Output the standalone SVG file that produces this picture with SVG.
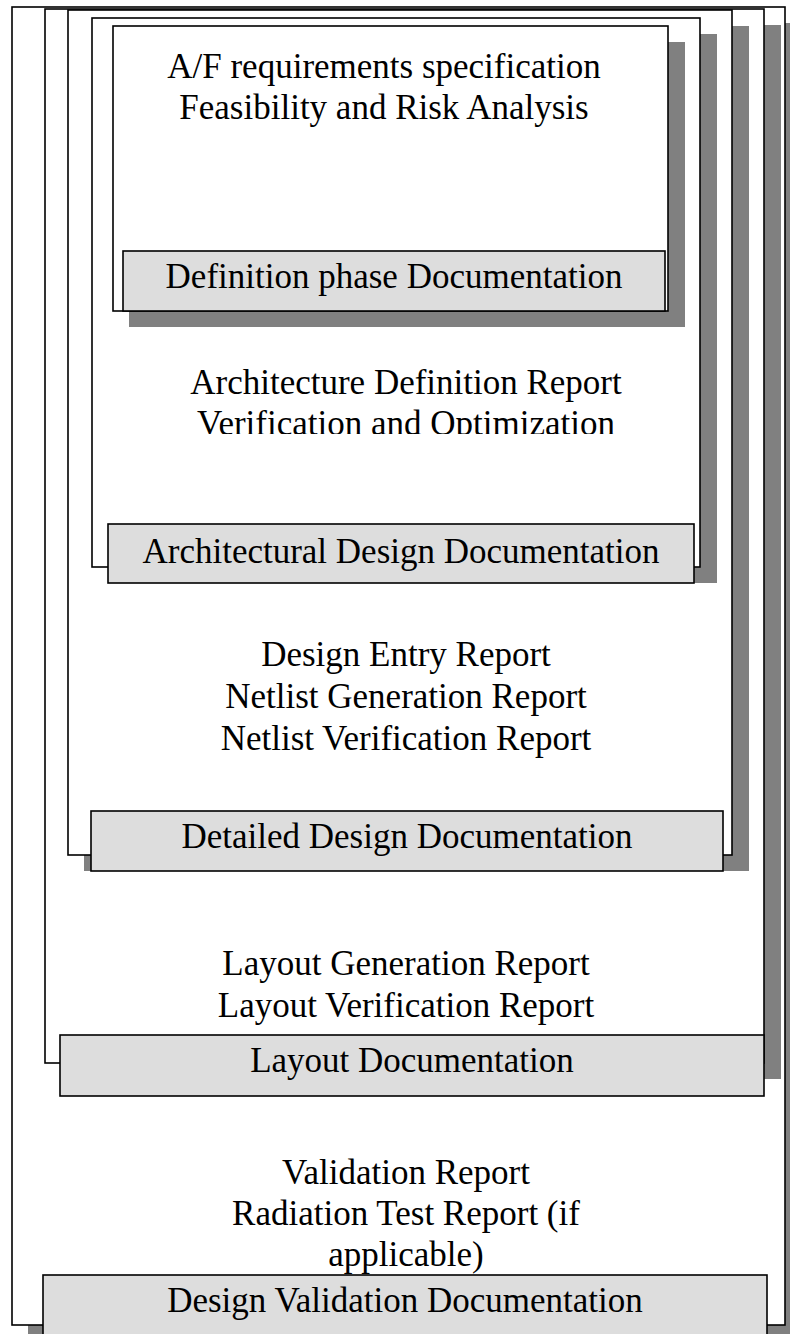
<svg xmlns="http://www.w3.org/2000/svg" width="790" height="1334" viewBox="0 0 790 1334">
<style>
.sh{fill:#808080;stroke:none}
.fr{fill:#ffffff;stroke:#000;stroke-width:1.6}
.lb{fill:#dddddd;stroke:#000;stroke-width:1.6}
text{font-family:"Liberation Serif","Times New Roman",serif;font-size:35px;fill:#000;text-anchor:middle}
</style>
<defs>
<clipPath id="c4"><rect x="92" y="340" width="608" height="94"/></clipPath>
</defs>
<rect width="790" height="1334" fill="#fff"/>
<g id="frame-validation">
<rect class="sh" x="28" y="23" width="773" height="1318"/>
<rect class="fr" x="12" y="7" width="773" height="1318"/>
<text x="406" y="1184">Validation Report</text>
<text x="406" y="1225">Radiation Test Report (if</text>
<text x="406" y="1266">applicable)</text>
<rect class="lb" x="43" y="1275" width="724" height="70"/>
<text x="405" y="1312">Design Validation Documentation</text>
</g>
<g id="frame-layout">
<rect class="sh" x="61" y="25" width="720" height="1054"/>
<rect class="fr" x="45" y="9" width="719" height="1054"/>
<text x="406" y="975">Layout Generation Report</text>
<text x="406" y="1017">Layout Verification Report</text>
<rect class="lb" x="60" y="1035" width="704" height="61"/>
<text x="412" y="1072">Layout Documentation</text>
</g>
<g id="frame-detailed">
<rect class="sh" x="84" y="26" width="665" height="845"/>
<rect class="fr" x="68" y="10" width="664" height="845"/>
<text x="406" y="666">Design Entry Report</text>
<text x="406" y="708">Netlist Generation Report</text>
<text x="406" y="750">Netlist Verification Report</text>
<rect class="lb" x="91" y="811" width="632" height="60"/>
<text x="407" y="848">Detailed Design Documentation</text>
</g>
<g id="frame-architectural">
<rect class="sh" x="108" y="34" width="609" height="549"/>
<rect class="fr" x="92" y="18" width="608" height="549"/>
<g clip-path="url(#c4)">
<text x="406" y="394">Architecture Definition Report</text>
<text x="406" y="435">Verification and Optimization</text>
</g>
<rect class="lb" x="108" y="524" width="586" height="59"/>
<text x="401" y="563">Architectural Design Documentation</text>
</g>
<g id="frame-definition">
<rect class="sh" x="129" y="42" width="556" height="285"/>
<rect class="fr" x="113" y="26" width="555" height="285"/>
<text x="384" y="78">A/F requirements specification</text>
<text x="384" y="119">Feasibility and Risk Analysis</text>
<rect class="lb" x="123" y="251" width="542" height="60"/>
<text x="394" y="288">Definition phase Documentation</text>
</g>
<g id="connectors"></g>
</svg>
